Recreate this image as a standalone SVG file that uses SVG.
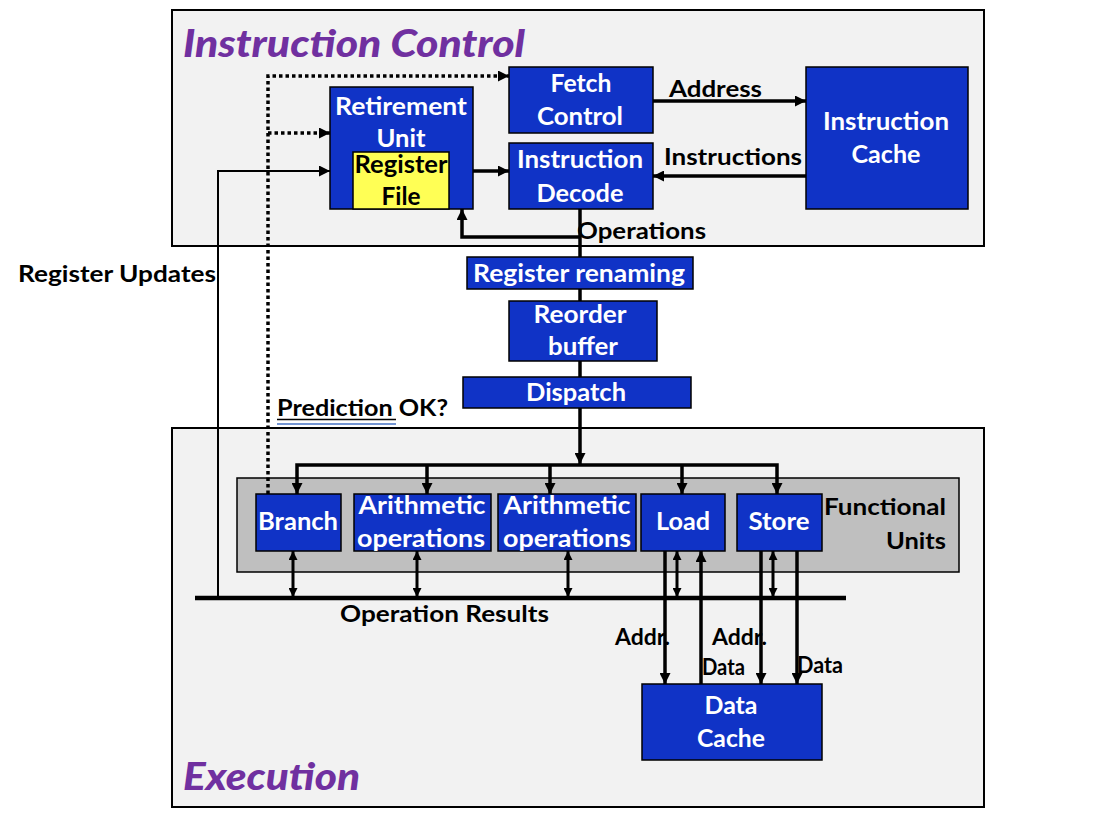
<svg xmlns="http://www.w3.org/2000/svg" width="1100" height="826" viewBox="0 0 1100 826">
<defs>
<style>
.panel{fill:#f2f2f2;stroke:#000;stroke-width:2}
.blk{fill:#1033c6;stroke:#000;stroke-width:1.5}
.wt{font-family:Lato,"Open Sans",sans-serif;font-weight:bold;font-size:24px;fill:#fff;text-anchor:middle}
.kt{font-family:Lato,"Open Sans",sans-serif;font-weight:bold;font-size:24px;fill:#000;text-anchor:middle}
.bt{font-family:Lato,"Open Sans",sans-serif;font-weight:bold;font-size:23px;fill:#000}
.ttl{font-family:Lato,"Open Sans",sans-serif;font-weight:900;font-style:italic;font-size:38px;fill:#7030a0}
.thick{fill:none;stroke:#000;stroke-width:3.5}
.mid{fill:none;stroke:#000;stroke-width:3}
.thin{fill:none;stroke:#000;stroke-width:2}
.dot{fill:none;stroke:#000;stroke-width:3.5;stroke-dasharray:3.5 3}
</style>
<marker id="a" markerUnits="userSpaceOnUse" viewBox="0 0 10 10" refX="10" refY="5" markerWidth="11" markerHeight="11" orient="auto-start-reverse"><path d="M0,0 L10,5 L0,10 z" fill="#000"/></marker>
<marker id="s" markerUnits="userSpaceOnUse" viewBox="0 0 10 10" refX="10" refY="5" markerWidth="9" markerHeight="9" orient="auto-start-reverse"><path d="M0,0 L10,5 L0,10 z" fill="#000"/></marker>
</defs>

<g id="instruction-control-panel">
<rect class="panel" x="172" y="10" width="812" height="236"/>
<text class="ttl" x="183" y="57" textLength="342" lengthAdjust="spacingAndGlyphs">Instruction Control</text>
</g>
<g id="execution-panel">
<rect class="panel" x="172" y="428" width="812" height="379"/>
<text class="ttl" x="183" y="790" textLength="177" lengthAdjust="spacingAndGlyphs">Execution</text>
</g>
<g id="functional-units">
<rect x="237" y="478" width="722" height="94" fill="#bfbfbf" stroke="#000" stroke-width="1.5"/>
<text class="bt" x="946" y="515" text-anchor="end" textLength="122" lengthAdjust="spacingAndGlyphs">Functional</text>
<text class="bt" x="946" y="549" text-anchor="end" textLength="60" lengthAdjust="spacingAndGlyphs">Units</text>
</g>

<g id="connectors">
<path class="thin" d="M218,598 V171 H330" marker-end="url(#a)"/>
<path class="dot" d="M268,494 V76 H509" marker-end="url(#a)"/>
<path class="dot" d="M268,133 H330" marker-end="url(#a)"/>
<path class="thick" d="M449,171 H509" marker-end="url(#a)"/>
<path class="thick" d="M653,101 H806" marker-end="url(#a)"/>
<path class="thick" d="M806,176 H653" marker-end="url(#a)"/>
<path class="thick" d="M580,209 V377"/>
<path class="thick" d="M580,237 H462 V209" marker-end="url(#a)"/>
<path class="thick" d="M580,408 V464" marker-end="url(#a)"/>
<path class="thick" d="M297,494 V465 H777 V494" marker-start="url(#a)" marker-end="url(#a)"/>
<path class="thick" d="M427,465 V494" marker-end="url(#a)"/>
<path class="thick" d="M550,465 V494" marker-end="url(#a)"/>
<path class="thick" d="M682,465 V494" marker-end="url(#a)"/>
<path fill="none" stroke="#000" stroke-width="4.5" d="M195,598 H846"/>
<path class="mid" d="M293,551 V597" marker-start="url(#s)" marker-end="url(#s)"/>
<path class="mid" d="M417,551 V597" marker-start="url(#s)" marker-end="url(#s)"/>
<path class="mid" d="M568,551 V597" marker-start="url(#s)" marker-end="url(#s)"/>
<path class="mid" d="M677,551 V597" marker-start="url(#s)" marker-end="url(#s)"/>
<path class="mid" d="M773,551 V597" marker-start="url(#s)" marker-end="url(#s)"/>
<text class="bt" x="615" y="645" font-size="20" textLength="55" lengthAdjust="spacingAndGlyphs">Addr.</text>
<text class="bt" x="712" y="645" font-size="20" textLength="55" lengthAdjust="spacingAndGlyphs">Addr.</text>
<text class="bt" x="702" y="675" font-size="20" textLength="43" lengthAdjust="spacingAndGlyphs">Data</text>
<text class="bt" x="797" y="673" font-size="20" textLength="46" lengthAdjust="spacingAndGlyphs">Data</text>
<path class="thick" d="M665,551 V684" marker-end="url(#a)"/>
<path class="thick" d="M701,684 V551" marker-end="url(#a)"/>
<path class="thick" d="M761,551 V684" marker-end="url(#a)"/>
<path class="thick" d="M797,551 V684" marker-end="url(#a)"/>
<text class="bt" x="669" y="97" textLength="93" lengthAdjust="spacingAndGlyphs">Address</text>
<text class="bt" x="664" y="165" textLength="138" lengthAdjust="spacingAndGlyphs">Instructions</text>
<text class="bt" x="577" y="239" textLength="129" lengthAdjust="spacingAndGlyphs">Operations</text>
<text class="bt" x="18" y="282" textLength="198" lengthAdjust="spacingAndGlyphs">Register Updates</text>
<text class="bt" x="277" y="416" textLength="171" lengthAdjust="spacingAndGlyphs">Prediction OK?</text>
<line x1="277" y1="419.5" x2="396" y2="419.5" stroke="#000" stroke-width="1.5"/>
<line x1="277" y1="424" x2="396" y2="424" stroke="#4472c4" stroke-width="1.5"/>
<text class="bt" x="340" y="622" textLength="209" lengthAdjust="spacingAndGlyphs">Operation Results</text>
</g>

<g id="retirement-unit">
<rect class="blk" x="330" y="87" width="143" height="122"/>
<text class="wt" x="401" y="115" textLength="132" lengthAdjust="spacingAndGlyphs">Retirement</text>
<text class="wt" x="401" y="147" textLength="49" lengthAdjust="spacingAndGlyphs">Unit</text>
</g>
<g id="register-file">
<rect x="353" y="152" width="96" height="57" fill="#ffff55" stroke="#000" stroke-width="1.5"/>
<text class="kt" x="401" y="173" textLength="93" lengthAdjust="spacingAndGlyphs">Register</text>
<text class="kt" x="401" y="205" textLength="39" lengthAdjust="spacingAndGlyphs">File</text>
</g>
<g id="fetch-control">
<rect class="blk" x="509" y="67" width="144" height="66"/>
<text class="wt" x="581" y="92" textLength="61" lengthAdjust="spacingAndGlyphs">Fetch</text>
<text class="wt" x="580" y="125" textLength="86" lengthAdjust="spacingAndGlyphs">Control</text>
</g>
<g id="instruction-decode">
<rect class="blk" x="509" y="143" width="144" height="66"/>
<text class="wt" x="580" y="168" textLength="126" lengthAdjust="spacingAndGlyphs">Instruction</text>
<text class="wt" x="580" y="202" textLength="87" lengthAdjust="spacingAndGlyphs">Decode</text>
</g>
<g id="instruction-cache">
<rect class="blk" x="806" y="67" width="162" height="142"/>
<text class="wt" x="886" y="130" textLength="126" lengthAdjust="spacingAndGlyphs">Instruction</text>
<text class="wt" x="886" y="163" textLength="69" lengthAdjust="spacingAndGlyphs">Cache</text>
</g>
<g id="register-renaming">
<rect class="blk" x="467" y="257" width="226" height="32"/>
<text class="wt" x="579" y="282" textLength="212" lengthAdjust="spacingAndGlyphs">Register renaming</text>
</g>
<g id="reorder-buffer">
<rect class="blk" x="509" y="301" width="148" height="60"/>
<text class="wt" x="580" y="323" textLength="93" lengthAdjust="spacingAndGlyphs">Reorder</text>
<text class="wt" x="583" y="355" textLength="70" lengthAdjust="spacingAndGlyphs">buffer</text>
</g>
<g id="dispatch">
<rect class="blk" x="463" y="377" width="228" height="31"/>
<text class="wt" x="576" y="401" textLength="100" lengthAdjust="spacingAndGlyphs">Dispatch</text>
</g>
<g id="branch">
<rect class="blk" x="256" y="494" width="85" height="57"/>
<text class="wt" x="298" y="530" textLength="80" lengthAdjust="spacingAndGlyphs">Branch</text>
</g>
<g id="arithmetic-1">
<rect class="blk" x="354" y="494" width="137" height="57"/>
<text class="wt" x="422" y="514" textLength="127" lengthAdjust="spacingAndGlyphs">Arithmetic</text>
<text class="wt" x="421" y="547" textLength="128" lengthAdjust="spacingAndGlyphs">operations</text>
</g>
<g id="arithmetic-2">
<rect class="blk" x="498" y="494" width="138" height="57"/>
<text class="wt" x="567" y="514" textLength="127" lengthAdjust="spacingAndGlyphs">Arithmetic</text>
<text class="wt" x="567" y="547" textLength="128" lengthAdjust="spacingAndGlyphs">operations</text>
</g>
<g id="load">
<rect class="blk" x="641" y="494" width="84" height="57"/>
<text class="wt" x="683" y="530" textLength="54" lengthAdjust="spacingAndGlyphs">Load</text>
</g>
<g id="store">
<rect class="blk" x="737" y="494" width="85" height="57"/>
<text class="wt" x="779" y="530" textLength="61" lengthAdjust="spacingAndGlyphs">Store</text>
</g>
<g id="data-cache">
<rect class="blk" x="642" y="684" width="180" height="76"/>
<text class="wt" x="731" y="714" textLength="53" lengthAdjust="spacingAndGlyphs">Data</text>
<text class="wt" x="731" y="747" textLength="68" lengthAdjust="spacingAndGlyphs">Cache</text>
</g>
</svg>
